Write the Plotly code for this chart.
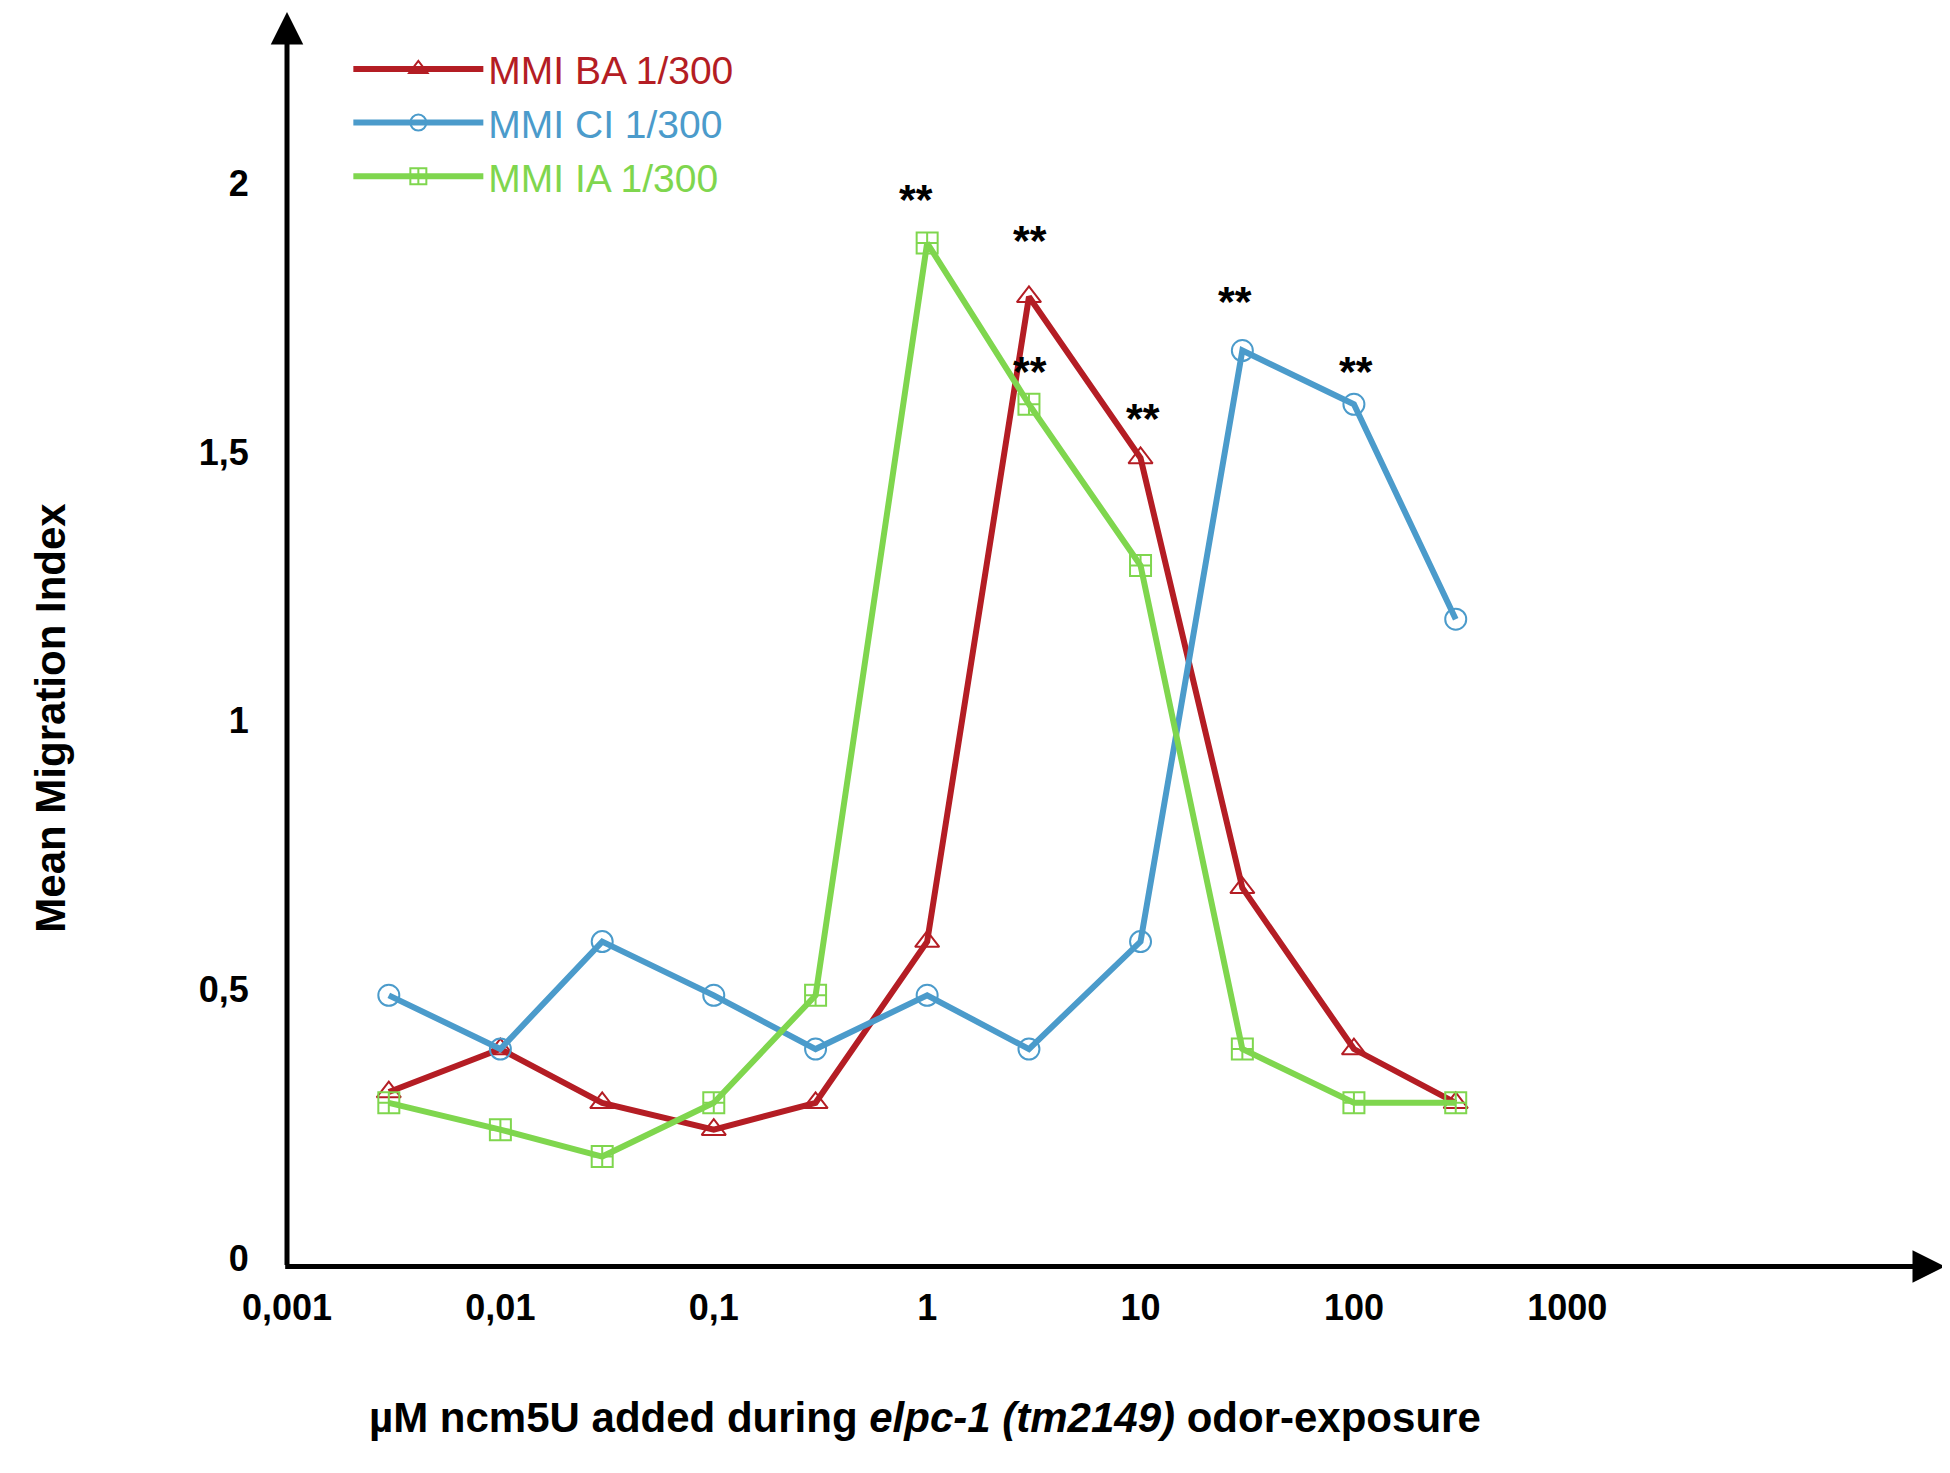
import math
import plotly.graph_objects as go

# concentrations (uM ncm5U)
conc = [0.003, 0.01, 0.03, 0.1, 0.3, 1, 3, 10, 30, 100, 300]

mmi_ba = [0.32, 0.4, 0.3, 0.25, 0.3, 0.6, 1.8, 1.5, 0.7, 0.4, 0.3]
mmi_ci = [0.5, 0.4, 0.6, 0.5, 0.4, 0.5, 0.4, 0.6, 1.7, 1.6, 1.2]
mmi_ia = [0.3, 0.25, 0.2, 0.3, 0.5, 1.9, 1.6, 1.3, 0.4, 0.3, 0.3]

x_tickvals = [0.001, 0.01, 0.1, 1, 10, 100, 1000]
x_ticktext = ["0,001", "0,01", "0,1", "1", "10", "100", "1000"]
y_tickvals = [0, 0.5, 1, 1.5, 2]
y_ticktext = ["0", "0,5", "1", "1,5", "2"]

# significance marks: (series, index of point)
sig_marks = [("IA", 5), ("BA", 6), ("IA", 6), ("BA", 7), ("CI", 8), ("CI", 9)]

RED = "#b41d24"
BLUE = "#4b9bcb"
GREEN = "#7fd64e"
FONT = "Liberation Sans, Arial, sans-serif"

series = {
    "BA": (mmi_ba, RED, "triangle-up-open", "MMI BA 1/300"),
    "CI": (mmi_ci, BLUE, "circle-open", "MMI CI 1/300"),
    "IA": (mmi_ia, GREEN, "square-cross-open", "MMI IA 1/300"),
}

fig = go.Figure()
for key in ["BA", "CI", "IA"]:
    vals, col, sym, name = series[key]
    fig.add_trace(go.Scatter(
        x=conc, y=vals, mode="lines+markers",
        name="<span style='color:%s'>%s</span>" % (col, name),
        line=dict(color=col, width=6),
        marker=dict(symbol=sym, size=21, color=col, line=dict(width=2, color=col)),
    ))

# asterisks above significant points (pixel offsets from the point)
offsets = {("IA", 5): (-11, 44), ("BA", 6): (1, 57), ("IA", 6): (1, 33),
           ("BA", 7): (2, 40), ("CI", 8): (-7, 50), ("CI", 9): (2, 33)}
for key, i in sig_marks:
    vals = series[key][0]
    dx, dy = offsets[(key, i)]
    fig.add_annotation(x=math.log10(conc[i]), y=vals[i], xref="x", yref="y", text="<b>**</b>",
                       showarrow=False, xshift=dx, yshift=dy,
                       font=dict(family=FONT, size=43, color="black"))

# axis arrows
fig.add_annotation(x=0, y=1, xref="x domain", yref="y domain", ax=0, ay=-0.002,
                   axref="x domain", ayref="y domain", text="", showarrow=True,
                   arrowhead=2, arrowsize=1.3, arrowwidth=5, arrowcolor="black")
fig.add_annotation(x=1, y=-0.002, xref="x domain", yref="y domain", ax=-0.002, ay=-0.002,
                   axref="x domain", ayref="y domain", text="", showarrow=True,
                   arrowhead=2, arrowsize=1.3, arrowwidth=5, arrowcolor="black")

# axis titles
fig.add_annotation(x=0.385, y=-0.143, xref="paper", yref="paper", showarrow=False,
                   text="<b>\u00b5M ncm5U added during <i>elpc-1 (tm2149)</i> odor-exposure</b>",
                   font=dict(family=FONT, size=42, color="black"))
fig.add_annotation(x=-0.158, y=0.436, xref="paper", yref="paper", showarrow=False,
                   textangle=-90, text="<b>Mean Migration Index</b>",
                   font=dict(family=FONT, size=42, color="black"))

fig.update_layout(
    width=1940, height=1465,
    margin=dict(l=279, r=3, t=4, b=209),
    paper_bgcolor="white", plot_bgcolor="white",
    font=dict(family=FONT, color="black"),
    showlegend=True,
    legend=dict(x=0.037, y=0.98, xanchor="left", yanchor="top",
                bgcolor="rgba(0,0,0,0)", font=dict(family=FONT, size=39),
                itemwidth=130, tracegroupgap=0),
    xaxis=dict(type="log", range=[-3, 4.77], showgrid=False, zeroline=False,
               showline=False, tickvals=x_tickvals, ticktext=x_ticktext,
               ticks="outside", ticklen=12, tickcolor="rgba(0,0,0,0)",
               tickfont=dict(family=FONT, size=36, color="black", weight="bold")),
    yaxis=dict(range=[0, 2.33], showgrid=False, zeroline=False, showline=False,
               tickvals=y_tickvals, ticktext=y_ticktext,
               ticks="outside", ticklen=30, tickcolor="rgba(0,0,0,0)",
               ticklabelshift=-6,
               tickfont=dict(family=FONT, size=36, color="black", weight="bold")),
)

fig.write_html("out.html")
